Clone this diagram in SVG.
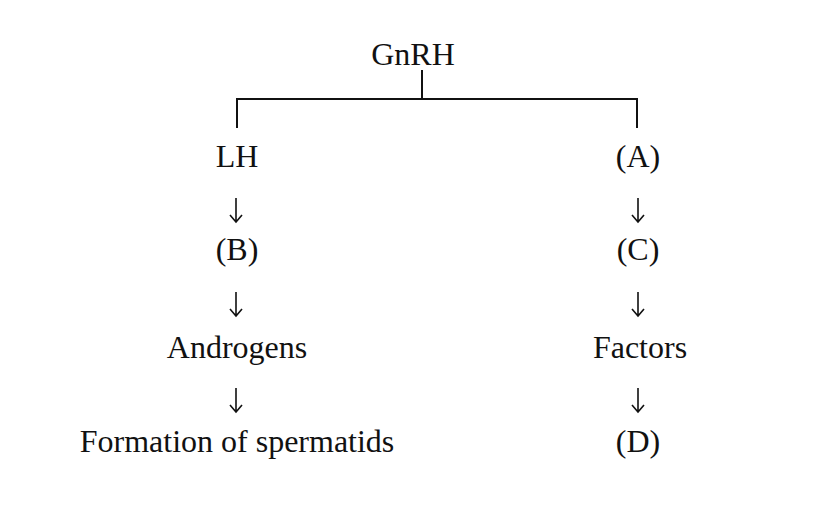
<svg xmlns="http://www.w3.org/2000/svg" width="824" height="508" viewBox="0 0 824 508">
<style>
text{font-family:"Liberation Serif","Times New Roman",serif;font-size:32px;fill:#111;text-anchor:middle}
.ln{stroke:#111;stroke-width:2;fill:none}
.ar{stroke:#111;stroke-width:1.6;fill:none}
</style>
<rect width="824" height="508" fill="#fff"/>
<g id="connectors">
<path class="ln" d="M422 70V99M237 128V99H637V128"/>
<path class="ar" d="M236 198V222M230 215L236 222L242 215"/>
<path class="ar" d="M236 292V316M230 309L236 316L242 309"/>
<path class="ar" d="M236 388V412M230 405L236 412L242 405"/>
<path class="ar" d="M638 198V222M632 215L638 222L644 215"/>
<path class="ar" d="M638 292V316M632 309L638 316L644 309"/>
<path class="ar" d="M638 388V412M632 405L638 412L644 405"/>
</g>
<g id="gnrh"><text x="413" y="65">GnRH</text></g>
<g id="lh"><text x="237" y="167">LH</text></g>
<g id="b"><text x="237" y="260">(B)</text></g>
<g id="androgens"><text x="237" y="358">Androgens</text></g>
<g id="formation"><text x="237" y="452">Formation of spermatids</text></g>
<g id="a"><text x="638" y="167">(A)</text></g>
<g id="c"><text x="638" y="260">(C)</text></g>
<g id="factors"><text x="640" y="358">Factors</text></g>
<g id="d"><text x="638" y="452">(D)</text></g>
</svg>
